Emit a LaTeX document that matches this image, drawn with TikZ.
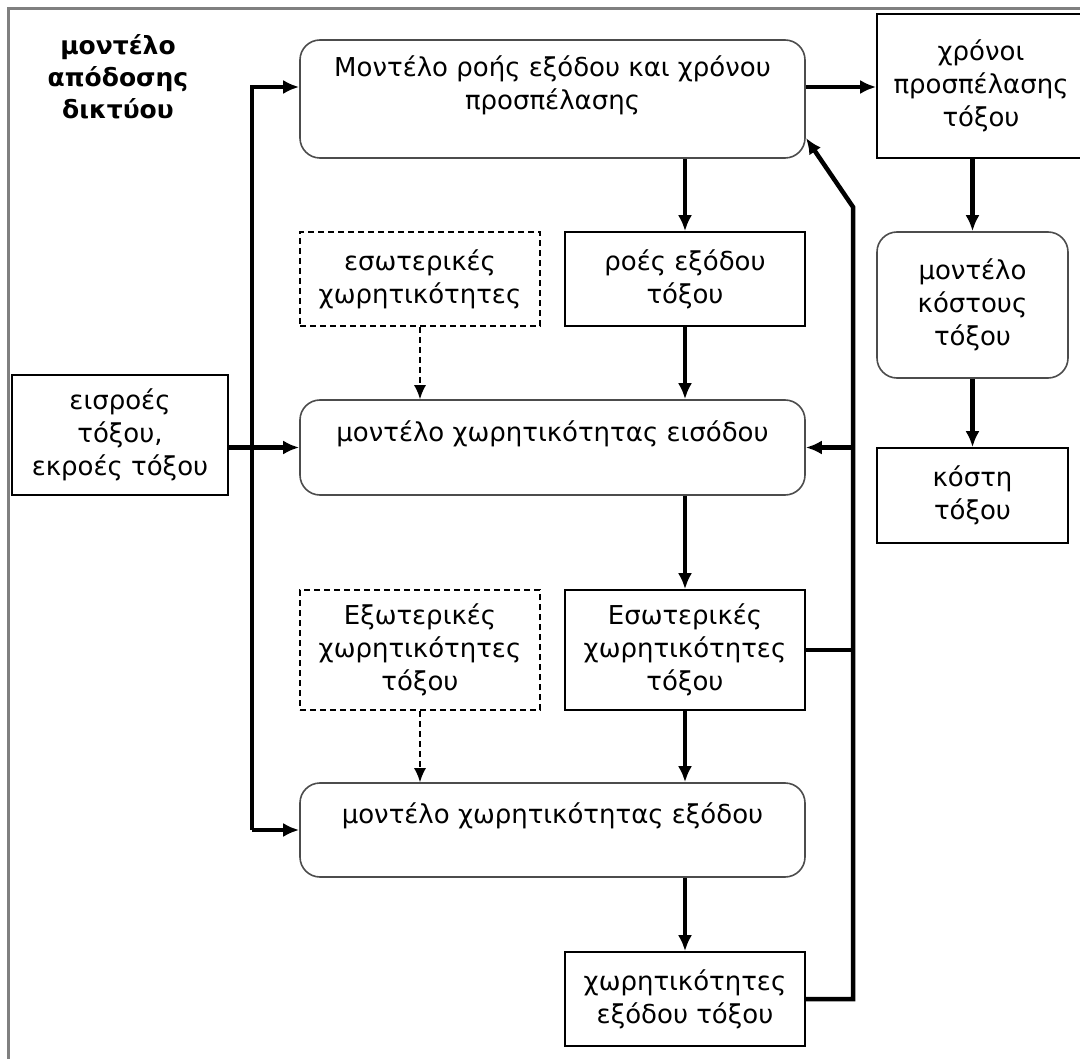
\documentclass[tikz,border=0pt]{standalone}
\usepackage{fontspec}
\setmainfont{DejaVu Sans}
\usetikzlibrary{arrows.meta}

\tikzset{
  box/.style={draw, line width=1.6pt, minimum width=240pt, minimum height=94pt,
    align=center, inner sep=0pt, font=\fontsize{26}{33}\selectfont},
  roundbox/.style={box, rounded corners=20pt, draw=black!70},
  dashbox/.style={box, dash pattern=on 6pt off 4pt},
  bus/.style={line width=4.5pt},
  feed/.style={bus, -{Latex[length=16pt,width=14pt]}},
  weak/.style={line width=1.6pt, dash pattern=on 6pt off 4pt, -{Latex[length=14pt,width=12pt]}},
}

\begin{document}
\begin{tikzpicture}[x=1pt,y=-1pt]
\clip (0,0) rectangle (1080,1059);
\fill[white] (0,0) rectangle (1080,1059);
\draw[gray, line width=3pt] (8,1070) -- (8,9) -- (1090,9);

\node[font=\fontsize{25}{32}\selectfont\bfseries, align=center] (title) at (118,77) {μοντέλο\\απόδοσης\\δικτύου};

% top row
\node[roundbox, minimum width=505pt, minimum height=118pt] (flow) at (552.5,99) {Μοντέλο ροής εξόδου και χρόνου\\προσπέλασης\\\mbox{}};
\node[box, minimum width=208pt, minimum height=144pt] (times) at (981,86) {χρόνοι\\προσπέλασης\\τόξου};

% right column
\node[roundbox, minimum width=191pt, minimum height=146pt] (cost) at (972.5,305) {μοντέλο\\κόστους\\τόξου};
\node[box, minimum width=191pt, minimum height=95pt] (costs) at (972.5,495.5) {κόστη\\τόξου};

% middle
\node[dashbox] (intcap) at (420,279) {εσωτερικές\\χωρητικότητες};
\node[box] (flows) at (685,279) {ροές εξόδου\\τόξου};
\node[box, minimum width=216pt, minimum height=120pt] (inflow) at (120,435) {εισροές\\τόξου,\\εκροές τόξου};
\node[roundbox, minimum width=505pt, minimum height=95pt] (inmodel) at (552.5,447.5) {μοντέλο χωρητικότητας εισόδου\\\mbox{}};
\node[dashbox, minimum height=120pt] (extcap) at (420,650) {Εξωτερικές\\χωρητικότητες\\τόξου};
\node[box, minimum height=120pt] (intcapb) at (685,650) {Εσωτερικές\\χωρητικότητες\\τόξου};
\node[roundbox, minimum width=505pt, minimum height=94pt] (outmodel) at (552.5,830) {μοντέλο χωρητικότητας εξόδου\\\mbox{}};
\node[box] (outcap) at (685,999) {χωρητικότητες\\εξόδου τόξου};

\coordinate (ltop) at (252,87);
\coordinate (rbend) at (853,207);
\coordinate (rtip) at (806,138);

\draw[feed] (ltop |- outmodel.west) -- (ltop) -- (flow.west |- ltop);
\draw[feed] (ltop |- outmodel.west) -- (outmodel.west);
\draw[feed] (inflow.east |- inmodel.west) -- (inmodel.west);
\draw[feed] (flow.east |- ltop) -- (times.west |- ltop);

\draw[feed] (flows.north |- flow.south) -- (flows.north);
\draw[feed] (flows.south) -- (flows.south |- inmodel.north);
\draw[weak] (intcap.south) -- (intcap.south |- inmodel.north);
\draw[feed] (intcapb.north |- inmodel.south) -- (intcapb.north);
\draw[feed] (intcapb.south) -- (intcapb.south |- outmodel.north);
\draw[weak] (extcap.south) -- (extcap.south |- outmodel.north);
\draw[feed] (outcap.north |- outmodel.south) -- (outcap.north);

\draw[feed] (outcap.east) -- (outcap.east -| rbend) -- (rbend) -- (rtip);
\draw[bus] (intcapb.east) -- (intcapb.east -| rbend);
\draw[feed] (rbend |- inmodel.east) -- (inmodel.east);

\draw[feed] (cost.north |- times.south) -- (cost.north);
\draw[feed] (cost.south) -- (costs.north);
\end{tikzpicture}
\end{document}
